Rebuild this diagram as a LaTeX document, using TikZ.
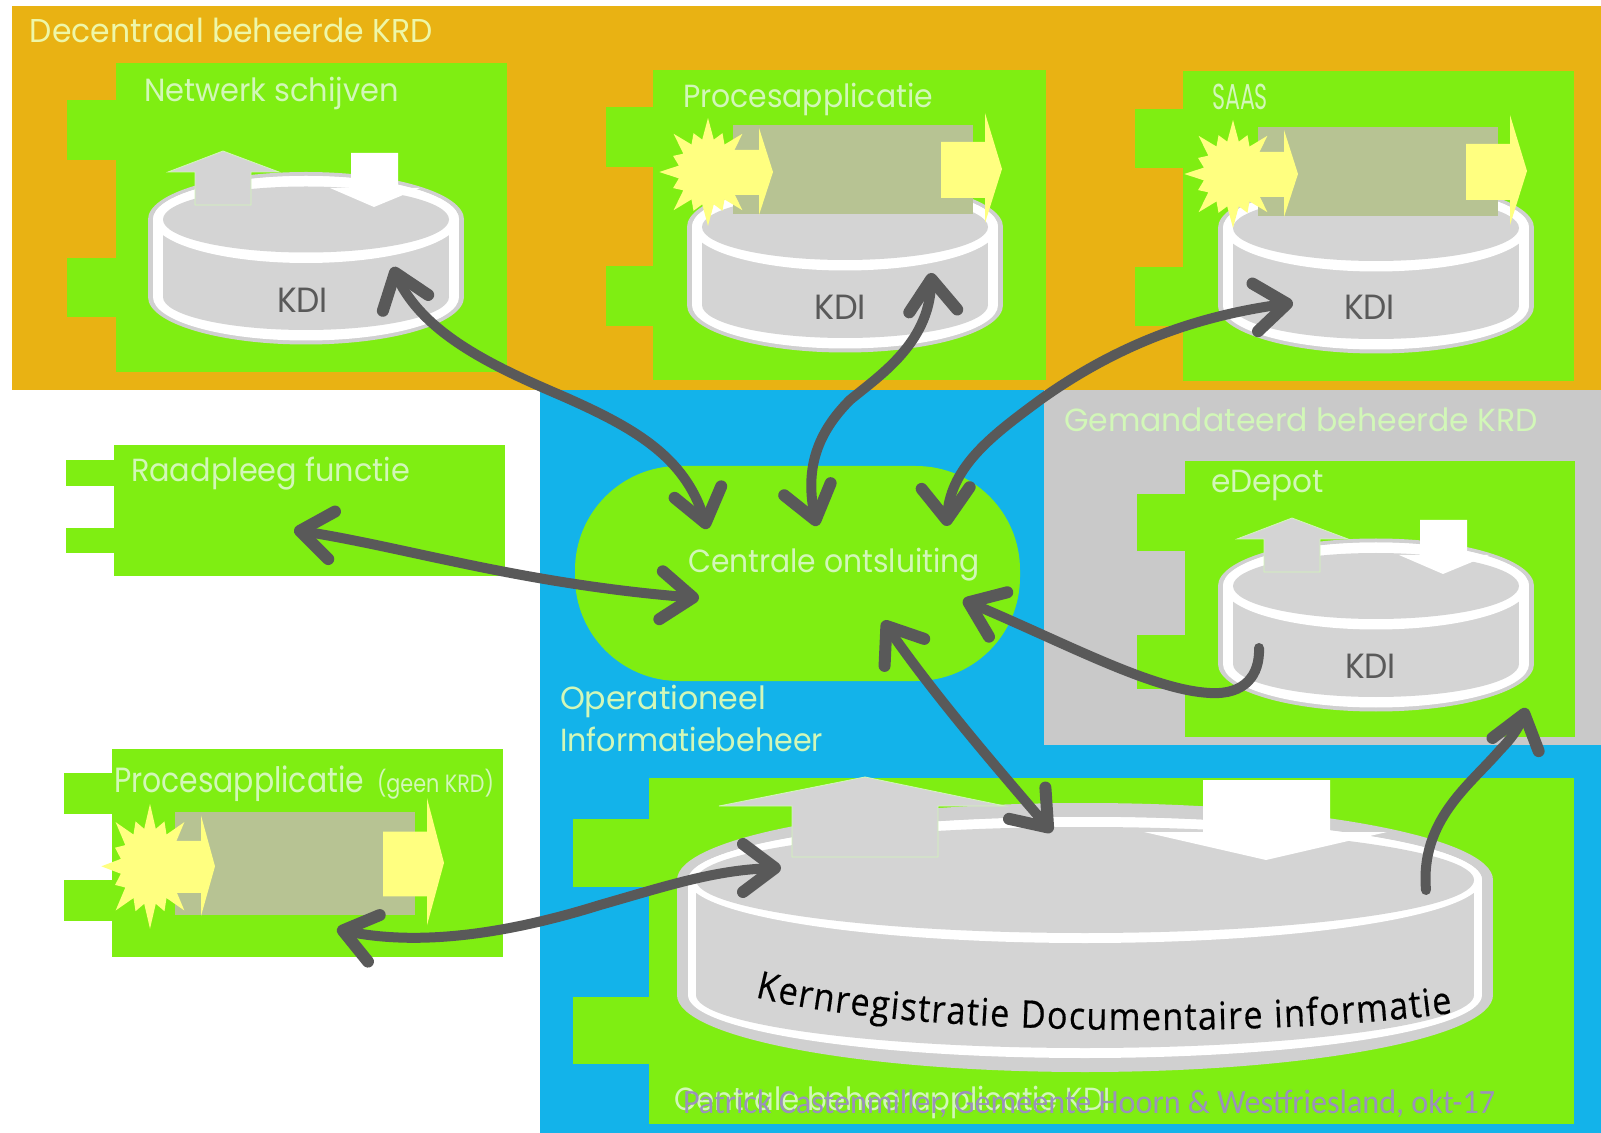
\documentclass[tikz,border=0pt]{standalone}
\usepackage{graphicx}
\usepackage{fontspec}
\usetikzlibrary{arrows.meta,shapes.geometric,decorations.text,bending}
\newfontfamily\gothic{Poppins}
\newfontfamily\kernfam[FakeStretch=0.9,FakeBold=0.4]{Open Sans}
\newfontfamily\footfam{Carlito}
\def\kernfont{\kernfam\fontsize{19}{22}\selectfont}
\definecolor{gorange}{HTML}{E9B213}
\definecolor{gblue}{HTML}{13B3EA}
\definecolor{ggreen}{HTML}{7FEE12}
\definecolor{gpanel}{HTML}{C9C9C9}
\definecolor{cyl}{HTML}{D4D4D4}
\definecolor{cylout}{HTML}{D0D0D0}
\definecolor{olive}{HTML}{B7C393}
\definecolor{ylw}{HTML}{FFFF80}
\definecolor{dark}{HTML}{595959}
\definecolor{pale}{HTML}{D2F7B8}
\definecolor{paley}{HTML}{EEF7A8}
\definecolor{footc}{HTML}{9B90BC}
\tikzset{
  panelfill/.style={fill=ggreen},
  lbl/.style={anchor=base west,inner sep=0pt,outer sep=0pt},
  barb/.tip={Straight Barb[length=16pt,width=24pt,line width=6pt,round]},
  flow/.style={draw=dark,line width=5pt,line cap=round,barb-barb},
  flowone/.style={draw=dark,line width=5pt,line cap=round,-barb},
  declare function={starr(\i)=ifthenelse(mod(\i,2)==1,33,ifthenelse(mod(\i,4)==0,54,42));},
}
% name x1 y1 x2 y2 tabx t1a t1b t2a t2b
\newcommand{\gpanel}[1]{\gpanelx{#1}}
\newcommand{\gpanelx}[5]{\def\pn{#1}\def\pa{#2}\def\pb{#3}\def\pc{#4}\def\pd{#5}\gpanely}
\newcommand{\gpanely}[5]{%
  \fill[panelfill] (\pa,\pb) rectangle (\pc,\pd);
  \fill[panelfill] (#1,#2) rectangle (\pa,#3);
  \fill[panelfill] (#1,#4) rectangle (\pa,#5);
  \coordinate (\pn) at ({(\pa+\pc)/2},{(\pb+\pd)/2});
}
\newcommand{\cyllayer}[7]{% cx cyT cyB rx ry color (dummy)
  \fill[#6] (#1,#2) ellipse [x radius=#4,y radius=#5];
  \fill[#6] (#1,#3) ellipse [x radius=#4,y radius=#5];
  \fill[#6] ({#1-#4},#2) rectangle ({#1+#4},#3);
}
% cx cyT cyB rx ry d1x d1y d2x d2y
\newcommand{\kdi}[9]{%
  \pgfmathsetmacro\ra{#4+#8}\pgfmathsetmacro\rb{#5+#9}%
  \pgfmathsetmacro\rc{#4+#6}\pgfmathsetmacro\rd{#5+#7}%
  \cyllayer{#1}{#2}{#3}{\ra}{\rb}{cylout}{}
  \cyllayer{#1}{#2}{#3}{\rc}{\rd}{white}{}
  \fill[cyl] ({#1-#4},#2) rectangle ({#1+#4},#3);
  \fill[cyl] (#1,#3) ellipse [x radius=#4,y radius=#5];
  \fill[white] (#1,#2) ellipse [x radius=\rc,y radius=\rd];
  \fill[cyl] (#1,#2) ellipse [x radius=#4,y radius=#5];
}
% tipx tipy heady headL headR shaftL shaftR end fill draw
\newcommand{\vertarrow}[9]{%
  \path[#9] (#1,#2) -- (#5,#3) -- (#7,#3) -- (#7,#8) -- (#6,#8) -- (#6,#3) -- (#4,#3) -- cycle;
}
% process block in local coordinates
\newcommand{\procblock}[3]{%
\begin{scope}[shift={(#1,#2)},yscale=#3]
  \fill[olive] (0,-45) rectangle (240,44);
  \fill[ylw] plot[samples at={0,...,31}] ({-25+0.9*starr(\x)*cos(\x*11.25)},{2+starr(\x)*sin(\x*11.25)}) -- cycle;
  \fill[ylw] (-5,-20) -- (26,-20) -- (26,-42) -- (40,2) -- (26,45) -- (26,25) -- (-5,25) -- cycle;
  \fill[ylw] (208,-28) -- (252,-28) -- (252,-57) -- (269,-1) -- (252,53) -- (252,28) -- (208,28) -- cycle;
\end{scope}}
% name x baseline width fontsize(pt) colour text
\newcommand{\lab}[7]{%
  \node[lbl,text=#6] (#1) at (#2,#3) {\gothic\fontsize{#5}{#5}\selectfont\resizebox{\dimexpr #4pt/2\relax}{\height}{#7}};}
\begin{document}
\begin{tikzpicture}[x=0.5pt,y=-0.5pt]
\useasboundingbox (0,0) rectangle (1601,1133);
\fill[white] (0,0) rectangle (1601,1133);
% regions
\fill[gorange] (12,6.5) rectangle (1601,390);
\fill[gblue] (540,390) rectangle (1601,1133);
\fill[gpanel] (1044,390) rectangle (1601,745);
% panels
\gpanel{pnetwerk}{115.5}{63}{507}{372}{67}{100}{160}{258}{317}
\gpanel{pproc}{653}{70}{1046}{380}{606}{107}{167}{266}{326}
\gpanel{psaas}{1183}{71}{1574}{381}{1135}{109}{168}{267}{326}
\gpanel{praad}{114}{445}{505}{576}{66}{460}{486}{528}{553}
\gpanel{pgeen}{112}{749}{503}{957}{64}{773}{814}{880}{921}
\gpanel{pedepot}{1185}{461}{1575}{737}{1137}{494}{551}{635}{689}
\gpanel{plarge}{649}{778}{1574}{1124}{573}{819}{887}{997}{1064}
\fill[ggreen,rounded corners=52pt] (575,466) rectangle (1020,681);
\coordinate (pcentral) at (797,573);
% cylinders
\kdi{306}{219.5}{297}{143}{33}{10}{10.5}{15}{14.5}
\kdi{845}{227}{305}{143}{33}{10}{10.5}{15}{14.5}
\kdi{1376}{228}{306}{143}{33}{10}{10.5}{15}{14.5}
\kdi{1376}{586}{664}{143}{33}{10}{10.5}{15}{14.5}
\kdi{1085}{880}{995}{389}{53}{8}{10}{19}{24}
% arrows on cylinders
\vertarrow{223}{151}{172}{168}{279}{195}{251}{205}{fill=cyl,draw=pale,line width=.4pt}
\vertarrow{374}{207}{188}{330}{420}{351}{398}{153}{fill=white}
\vertarrow{1292}{518}{539}{1237}{1348}{1264}{1320}{572}{fill=cyl,draw=pale,line width=.4pt}
\vertarrow{1443}{574}{555}{1399}{1489}{1420}{1467}{520}{fill=white}
\vertarrow{865}{777}{806}{719}{1005}{792}{938}{857}{fill=cyl,draw=pale,line width=.4pt}
\vertarrow{1266}{860}{832}{1144}{1387}{1203}{1330}{780}{fill=white}
% process blocks
\procblock{733}{170}{1}
\procblock{1258}{172}{1}
\procblock{175}{864}{1.157}
% labels
\lab{tdec}{30}{43}{403}{16.5}{paley}{Decentraal beheerde KRD}
\lab{tnet}{144}{102}{255}{16}{pale}{Netwerk schijven}
\lab{tproc}{683}{108}{250}{16}{pale}{Procesapplicatie}
\lab{tsaas}{1212}{110}{56}{18}{pale}{SAAS}
\lab{tkdia}{277}{313}{51}{17.5}{dark}{KDI}
\lab{tkdib}{814}{320}{52}{17.5}{dark}{KDI}
\lab{tkdic}{1344}{320}{51}{17.5}{dark}{KDI}
\lab{tkdid}{1345}{679}{51}{17.5}{dark}{KDI}
\lab{traad}{131}{482}{279}{16}{pale}{Raadpleeg functie}
\lab{tgeen}{114}{792}{250}{17.5}{pale}{Procesapplicatie}
\lab{tgeenb}{377}{792}{117}{12.5}{pale}{(geen KRD)}
\lab{tcentr}{688}{573}{292}{16}{pale}{Centrale ontsluiting}
\lab{toper}{560}{710}{206}{16}{pale}{Operationeel}
\lab{tinfo}{560}{752}{263}{16}{pale}{Informatiebeheer}
\lab{tgem}{1064}{432}{474}{16}{pale}{Gemandateerd beheerde KRD}
\lab{tedep}{1211}{493}{113}{16}{pale}{eDepot}
\lab{tcbk}{674}{1110}{437}{16}{pale}{Centrale beheerapplicatie KDI}
% curved title
\path[decorate,decoration={text along path,text align={fit to path},
  text={|\kernfont|Kernregistratie Documentaire informatie}}]
  (755,997) .. controls (900,1035) and (1260,1040) .. (1452,1013);
% connector ends
\coordinate (cnet) at (393,267);
\coordinate (cnetb) at (707,529);
\coordinate (cprocb) at (931,273);
\coordinate (cprocc) at (817,526);
\coordinate (csaas) at (1293,303);
\coordinate (csaasc) at (947,526);
\coordinate (craad) at (294,530);
\coordinate (craadc) at (699,598);
\coordinate (cedep) at (963,600);
\coordinate (cedept) at (1259,648);
\coordinate (cup) at (883,621);
\coordinate (cdown) at (1052,832);
\coordinate (cgeen) at (337,929);
\coordinate (cgeenb) at (781,868);
\coordinate (ctail) at (1426,890);
\coordinate (ctailb) at (1526,708);
% connectors
\draw[flow] (cnet) .. controls (415,330) and (490,365) .. (560,395) .. controls (640,430) and (690,460) .. (cnetb);
\draw[flow] (cprocb) .. controls (935,340) and (880,375) .. (850,400) .. controls (810,440) and (805,480) .. (cprocc);
\draw[flow] (csaas) .. controls (1190,315) and (1110,350) .. (1040,400) .. controls (990,437) and (945,470) .. (csaasc);
\draw[flow] (craad) .. controls (400,545) and (520,585) .. (craadc);
\draw[flowone] (cedept) .. controls (1260,675) and (1245,695) .. (1210,693) .. controls (1150,690) and (1060,640) .. (cedep);
\draw[flow] (cup) .. controls (930,690) and (990,760) .. (cdown);
\draw[flow] (cgeen) .. controls (420,950) and (520,930) .. (600,905) .. controls (670,885) and (720,868) .. (cgeenb);
\draw[flowone] (ctail) .. controls (1420,820) and (1470,785) .. (1500,750) .. controls (1515,735) and (1522,722) .. (ctailb);
% footer
\node[lbl,text=footc,font=\footfam\fontsize{17}{17}\selectfont] (tfoot) at (683,1113) {\resizebox{406pt}{\height}{Patrick Castenmiller, Gemeente Hoorn \& Westfriesland, okt-17}};
\end{tikzpicture}
\end{document}
